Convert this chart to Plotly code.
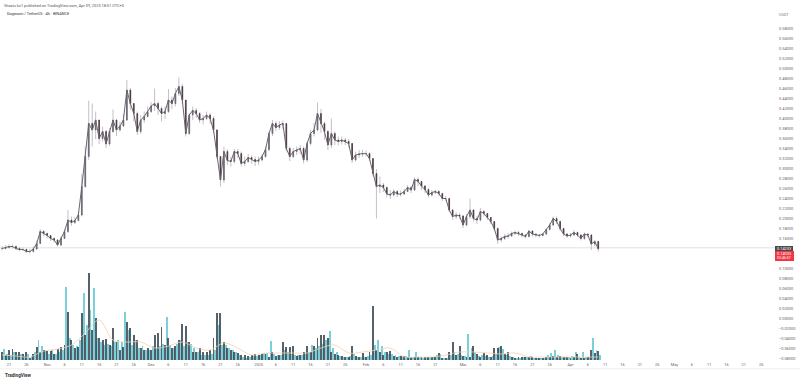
import pandas as pd
import plotly.graph_objects as go

close = [.141,.143,.145,.145,.141,.139,.139,.135,.135,.140,
.151,.175,.171,.167,.161,.158,.148,.161,.175,.198,
.193,.197,.208,.265,.325,.391,.378,.398,.361,.375,
.350,.375,.398,.378,.386,.398,.458,.431,.411,.375,
.398,.405,.415,.426,.431,.421,.411,.415,.438,.431,
.451,.465,.438,.371,.408,.417,.411,.398,.401,.408,
.401,.378,.325,.278,.335,.317,.315,.335,.331,.311,
.315,.323,.319,.315,.318,.325,.339,.371,.391,.383,
.388,.391,.341,.325,.335,.338,.341,.318,.351,.371,
.378,.411,.391,.375,.348,.371,.358,.355,.358,.355,
.351,.318,.328,.330,.331,.331,.321,.291,.265,.268,
.263,.250,.248,.255,.250,.250,.255,.263,.258,.279,
.275,.266,.259,.248,.253,.255,.251,.241,.241,.218,
.205,.208,.206,.188,.205,.218,.201,.198,.215,.211,
.203,.195,.181,.158,.161,.165,.166,.171,.173,.171,
.168,.165,.176,.170,.168,.167,.170,.179,.188,.201,
.195,.181,.170,.166,.168,.173,.168,.161,.170,.168,
.150,.155,.14035]

high = [.146,.148,.149,.149,.147,.144,.143,.141,.140,.145,
.157,.180,.178,.173,.167,.163,.160,.166,.180,.218,
.205,.203,.215,.290,.345,.437,.431,.415,.392,.385,
.378,.382,.419,.400,.395,.410,.478,.462,.428,.415,
.408,.415,.425,.434,.461,.435,.425,.425,.460,.445,
.462,.483,.470,.412,.412,.425,.422,.414,.408,.415,
.412,.405,.380,.315,.345,.340,.325,.340,.340,.335,
.325,.330,.327,.325,.325,.330,.345,.375,.398,.395,
.396,.397,.392,.345,.342,.345,.348,.345,.355,.378,
.392,.433,.420,.395,.378,.401,.375,.365,.365,.362,
.360,.352,.335,.338,.338,.337,.333,.322,.300,.285,
.272,.265,.258,.260,.258,.257,.260,.268,.266,.283,
.283,.275,.268,.262,.258,.259,.258,.252,.246,.242,
.220,.214,.212,.208,.210,.241,.220,.206,.222,.218,
.212,.203,.195,.183,.165,.170,.172,.175,.177,.176,
.173,.170,.178,.178,.172,.170,.172,.181,.192,.205,
.205,.197,.183,.172,.172,.178,.175,.170,.173,.172,
.170,.158,.157]

low = [.137,.139,.141,.141,.138,.136,.136,.132,.131,.133,
.138,.150,.165,.161,.156,.153,.145,.146,.160,.172,
.186,.190,.195,.205,.262,.318,.345,.360,.350,.355,
.342,.346,.372,.366,.375,.384,.396,.418,.395,.368,
.370,.392,.403,.412,.416,.408,.395,.400,.412,.420,
.425,.446,.430,.365,.368,.398,.402,.392,.389,.398,
.390,.372,.320,.265,.272,.308,.305,.311,.322,.305,
.306,.312,.310,.306,.308,.315,.322,.335,.366,.376,
.378,.380,.335,.316,.322,.328,.330,.311,.314,.347,
.365,.375,.372,.358,.338,.342,.348,.347,.349,.348,
.343,.312,.315,.322,.324,.325,.316,.285,.201,.252,
.254,.244,.240,.245,.244,.245,.248,.254,.252,.256,
.266,.258,.252,.243,.245,.250,.246,.236,.236,.214,
.198,.200,.200,.182,.185,.200,.195,.190,.195,.205,
.198,.190,.176,.150,.154,.158,.161,.164,.168,.166,
.163,.161,.163,.165,.164,.163,.165,.167,.177,.186,
.190,.176,.166,.162,.163,.166,.164,.157,.158,.163,
.138,.145,.135]

vol_dark = [8,5,10,11,8,8,6,8,2,6,13,8,10,9,9,6,11,13,15,48,20,12,13,47,25,87,30,42,22,20,
21,15,32,18,10,13,38,32,25,20,12,10,12,10,25,27,33,15,22,12,14,20,36,34,18,8,8,12,
8,8,10,22,47,47,18,12,10,8,7,5,5,4,5,6,5,6,6,3,8,4,5,18,13,13,14,4,5,8,14,8,14,
22,25,25,22,8,6,5,4,3,3,14,4,3,7,3,8,54,10,8,5,8,9,4,3,4,
4,3,3,3,3,3,3,3,3,3,7,2,2,8,18,5,14,4,3,3,14,6,3,7,5,3,12,12,14,6,8,3,2,3,3,3,3,3,2,2,2,3,3,4,3,4,3,3,2,3,6,2,2,3,10,7,9]

vol_teal = [11,6,5,8,5,6,4,6,3,8,20,14,10,6,10,6,8,10,73,22,15,14,20,67,35,50,72,22,18,15,
16,14,18,20,18,48,30,15,20,12,14,10,10,14,12,14,16,43,15,12,16,20,14,18,16,12,8,5,
5,5,6,10,35,15,15,12,10,8,5,3,2,3,4,4,5,7,7,19,6,5,5,10,8,6,5,5,5,7,8,15,12,
14,16,20,29,12,8,4,3,3,4,6,3,3,3,4,5,15,20,14,8,6,6,5,4,3,
4,10,3,8,3,2,3,3,3,5,6,2,2,5,8,6,5,4,26,12,8,4,5,4,3,4,6,13,11,5,4,3,2,2,3,3,4,2,2,2,2,5,7,10,5,3,3,3,4,8,3,8,3,3,22,10,5]

vol_ma = [5,4,3,9,11,15,27,40,20,18,18,12,14,18,12,10,17,12,5,7,7,7,7,12,15,7,8,10,12,3,3,3,5,8,8,7,6,7,3,3,3,3,3,3]

tick_dates = ["2024-10-21","2024-10-26","2024-11-01","2024-11-06","2024-11-11","2024-11-16","2024-11-21","2024-11-26",
"2024-12-01","2024-12-06","2024-12-11","2024-12-16","2024-12-21","2024-12-26","2025-01-01","2025-01-06","2025-01-11",
"2025-01-16","2025-01-21","2025-01-26","2025-02-01","2025-02-06","2025-02-11","2025-02-16","2025-02-21","2025-03-01",
"2025-03-06","2025-03-11","2025-03-16","2025-03-21","2025-03-26","2025-04-01","2025-04-06","2025-04-11","2025-04-16",
"2025-04-21","2025-04-26","2025-05-01","2025-05-06","2025-05-11","2025-05-16","2025-05-21","2025-05-26"]
tick_text = ["21","26","Nov","6","11","16","21","26","Dec","6","11","16","21","26","2025","6","11","16","21","26","Feb",
"6","11","16","21","Mar","6","11","16","21","26","Apr","6","11","16","21","26","May","6","11","16","21","26"]

price_ticks = [.58,.56,.54,.52,.50,.48,.46,.44,.42,.40,.38,.36,.34,.32,.30,.28,.26,.24,.22,.20,.18,.16,
               .10,.08,.06,.04,.02,0,-.02,-.04,-.06,-.08]
price_text = ["%.5f" % t if t >= 0 else "\u2212%.5f" % -t for t in price_ticks]

dates = pd.date_range("2024-10-19", periods=len(close), freq="D")
opens = [close[0]] + close[:-1]
highs = [max(h, o, c) for h, o, c in zip(high, opens, close)]
lows = [min(l, o, c) for l, o, c in zip(low, opens, close)]
body_hi = [max(o, c) for o, c in zip(opens, close)]
body_lo = [min(o, c) for o, c in zip(opens, close)]
half_day = pd.Timedelta(hours=12)
bar_w = 0.27 * 86400000

FONT = "Roboto"
fig = go.Figure()
fig.add_trace(go.Bar(x=dates + half_day, y=vol_teal, yaxis="y2", width=bar_w, marker_color="#6ccbd6",
                     marker_line_width=0, opacity=.9))
fig.add_trace(go.Bar(x=dates, y=vol_dark, yaxis="y2", width=bar_w, marker_color="#3a4650",
                     marker_line_width=0, opacity=.85))
fig.add_trace(go.Scatter(x=dates[::4], y=vol_ma, yaxis="y2", mode="lines",
                         line=dict(color="#f6cfae", width=.8, shape="spline")))
fig.add_trace(go.Candlestick(x=dates, open=opens, high=highs, low=lows, close=close,
    increasing=dict(line=dict(color="#c4c0c6", width=1), fillcolor="#c4c0c6"),
    decreasing=dict(line=dict(color="#c4c0c6", width=1), fillcolor="#c4c0c6"), whiskerwidth=0))
fig.add_trace(go.Scatter(x=dates, y=close, mode="lines", line=dict(color="#6a6670", width=1)))
fig.add_trace(go.Candlestick(x=dates, open=opens, high=body_hi, low=body_lo, close=close,
    increasing=dict(line=dict(color="#55525e", width=.6), fillcolor="#8a8690"),
    decreasing=dict(line=dict(color="#4a2f3a", width=.6), fillcolor="#3a3038"), whiskerwidth=0))

last_line = close[-1] + .00198
fig.add_shape(type="line", xref="paper", x0=0, x1=1, yref="y", y0=last_line, y1=last_line,
              line=dict(color="#e2e0e0", width=1), layer="below")
fig.add_shape(type="line", xref="paper", x0=0, x1=800/775, yref="paper", y0=-.023, y1=-.023,
              line=dict(color="#efefef", width=1))

def note(txt, x, y, color="#555", size=3.9, anchor="left", **kw):
    fig.add_annotation(xref="paper", yref="paper", x=x/775, y=(361-y)/341, text=txt, showarrow=False,
                       xanchor=anchor, yanchor="middle", font=dict(family=FONT, size=size, color=color),
                       borderpad=0, **kw)

note("Shastu.kz1 published on TradingView.com, Apr 09, 2025 18:51 UTC+5", 3, 5)
note("Dogecoin / TetherUS · 4h · BINANCE", 6, 13.5, color="#333")
note("USDT", 784, 14, anchor="center", color="#777")
note("<b>TradingView</b>", 4, 375, color="#333", size=4.6)

fig.add_shape(type="rect", xref="paper", yref="paper", x0=775/775, x1=793/775, y0=(361-251)/341, y1=(361-246)/341,
              fillcolor="#4a4a4a", line_width=0)
fig.add_shape(type="rect", xref="paper", yref="paper", x0=775/775, x1=794/775, y0=(361-261)/341, y1=(361-251)/341,
              fillcolor="#f23645", line_width=0)
note("0.14233", 784, 248.5, color="#ffffff", anchor="center")
note("0.14035", 784, 253.5, color="#ffffff", anchor="center")
note("03:46:57", 784, 258, color="#ffffff", anchor="center", size=3.6)

fig.update_layout(
    width=800, height=381, margin=dict(l=0, r=25, t=20, b=20),
    paper_bgcolor="#ffffff", plot_bgcolor="#ffffff", showlegend=False, barmode="overlay",
    font=dict(family=FONT, size=3.9, color="#555"),
    xaxis=dict(type="date", range=["2024-10-18 09:30", "2025-05-30"], rangeslider_visible=False,
               tickmode="array", tickvals=tick_dates, ticktext=tick_text, showgrid=False, zeroline=False,
               showline=False, ticks="", tickangle=0, tickfont=dict(size=3.9, color="#666"), automargin=False),
    yaxis=dict(range=[-.084, .598], side="right", tickmode="array", tickvals=price_ticks, ticktext=price_text,
               showgrid=False, zeroline=False, showline=False, ticks="", ticklabelstandoff=3,
               tickfont=dict(size=3.9, color="#666"), automargin=False),
    yaxis2=dict(range=[-1, 340], overlaying="y", visible=False),
    boxgap=.7,
)
fig.write_html("out.html", config={"displayModeBar": False},
               post_script="document.body.style.margin='0';document.body.style.overflow='hidden';")
